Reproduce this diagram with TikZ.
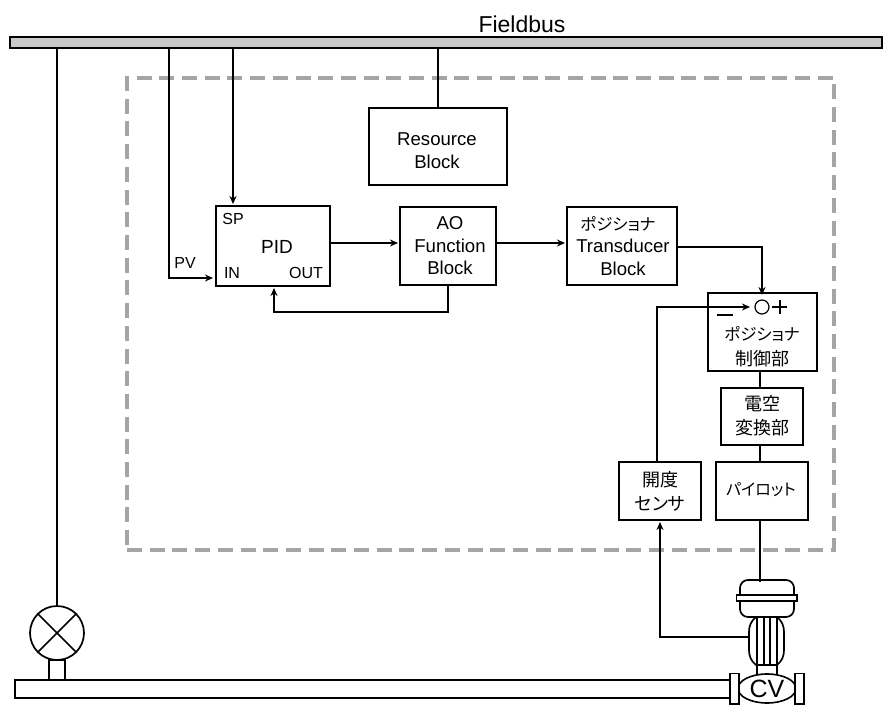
\documentclass[tikz,border=0pt]{standalone}
\usepackage{fontspec}
\setmainfont{Liberation Sans}
\newfontfamily\jpfont[RawFeature=+palt]{Noto Sans CJK JP}
\newcommand{\jps}[1]{{\fontsize{16.5}{23}\selectfont\jpfont #1}}
\usetikzlibrary{arrows.meta,shapes.geometric}
\definecolor{busgray}{RGB}{200,202,200}
\definecolor{dashgray}{RGB}{165,165,165}
\tikzset{
  x=1pt,y=-1pt,
  blockbox/.style={draw=black,line width=1.7pt,fill=white,inner sep=0pt,align=center},
  blocktext/.style={inner sep=0pt,align=center,font=\fontsize{18.6}{22.5}\selectfont},
  wire/.style={draw=black,line width=1.6pt},
  sig/.style={wire,-{Stealth[length=8pt,width=7pt]}},
  tiny label/.style={inner sep=0pt,font=\fontsize{16}{18}\selectfont},
  part/.style={draw=black,line width=1.7pt,fill=white}
}
\newcommand{\blk}[4]{\node[blockbox,minimum width=#3 pt,minimum height=#4 pt] (#1) at (#2) {};}
\begin{document}
\begin{tikzpicture}
\useasboundingbox (0,0) rectangle (892,706);
% dashed boundary
\node[draw=dashgray,line width=4.5pt,dash pattern=on 15pt off 7.7pt,minimum width=707pt,minimum height=472pt,inner sep=0pt] (device) at (480.5,314) {};
% bus
\node[draw=black,fill=busgray,line width=1.7pt,minimum width=872pt,minimum height=11pt,inner sep=0pt] (bus) at (446,42.5) {};
\node[inner sep=0pt,font=\fontsize{23}{25}\selectfont] (fieldbus) at (522,24) {Fieldbus};
\coordinate (actTop) at (760,582);
\coordinate (bonnet) at (749,637);
% blocks
\blk{res}{438,146.5}{138}{77}
\blk{pid}{273,246}{114}{80}
\blk{ao}{448,246}{96}{78}
\blk{trans}{622,246}{110}{78}
\blk{ctl}{762.5,332}{109}{78}
\blk{ep}{762,416.5}{82}{57}
\blk{pilot}{762,491}{92}{58}
\blk{sensor}{660,491}{82}{58}
\node[blocktext] (restext) at (437,150.5) {Resource\\Block};
\node[blocktext,font=\fontsize{19}{23}\selectfont] (pidtext) at (277,247) {PID};
\node[blocktext] (aotext) at (450,246) {AO\\Function\\Block};
\node[blocktext] (transtext) at (623,246) {\jps{ポジショナ}\hspace*{10pt}\\Transducer\\Block};
\node[blocktext,font=\fontsize{18}{25}\selectfont] (ctltext) at (762,347) {\jps{ポジショナ}\\{\jpfont 制御部}};
\node[blocktext,font=\fontsize{18}{24}\selectfont] (eptext) at (762,416) {{\jpfont 電空}\\{\jpfont 変換部}};
\node[blocktext] (pilottext) at (761,490) {{\fontsize{16}{20}\selectfont\jpfont パイロット}};
\node[blocktext,font=\fontsize{18}{24}\selectfont] (sensortext) at (660,491) {{\jpfont 開度}\\{\jpfont センサ}};
% port labels
\node[tiny label] (sp) at (233,219) {SP};
\node[tiny label] (in) at (232,273) {IN};
\node[tiny label] (out) at (306,273) {OUT};
\node[tiny label] (pv) at (185,263) {PV};
% sum junction
\node[draw=black,line width=1.2pt,circle,minimum size=14pt,inner sep=0pt] (sum) at (762,307) {};
\coordinate (plusc) at (780,307);
\draw[black,line width=1.1pt] (772,307) -- (787,307) (plusc)+(0,-7) -- +(0,7);
\draw[black,line width=1.1pt] (717,315) -- (733,315);
% valve
\draw[part,rounded corners=8pt] (740,596) -- (740,580) -- (794,580) -- (794,596);
\draw[part,rounded corners=8pt] (740,600) -- (740,617) -- (794,617) -- (794,600);
\draw[part] (736.5,595) rectangle (797,601);
\draw[part] (757,665) rectangle (777,676);
\draw[part] (756,617) .. controls (751,621) and (749,626) .. (749,632) -- (749,650) .. controls (749,656) and (751,661) .. (756,665) -- (777,665) .. controls (782,661) and (784,656) .. (784,650) -- (784,632) .. controls (784,626) and (782,621) .. (777,617) -- cycle;
\foreach \rx in {757,764,770,777} \draw[black,line width=1.4pt] (\rx,617) -- (\rx,665);
% pipe
\draw[part] (730,680) -- (15,680) -- (15,698) -- (730,698);
\node[draw=black,line width=1.6pt,fill=white,ellipse,minimum width=58pt,minimum height=29pt,inner sep=0pt,font=\fontsize{25}{26}\selectfont] (cv) at (767,688.5) {CV};
\draw[part] (730,673.5) rectangle (739,704);
\draw[part] (795,673.5) rectangle (804,704);
% gauge
\draw[part] (49,660) rectangle (65,680);
\node[draw=black,fill=white,line width=1.7pt,circle,minimum size=54pt,inner sep=0pt] (gauge) at (57,633) {};
\draw[black,line width=1.7pt] (gauge.45) -- (gauge.225) (gauge.135) -- (gauge.315);
% connectors
\draw[wire] (gauge.north) -- (gauge.north |- bus.south);
\draw[sig] (169,48) -- (169,278) -- (213,278);
\draw[sig] (233,48) -- (233,204);
\draw[wire] (res.north) -- (res.north |- bus.south);
\draw[sig] (pid.east |- 0,243) -- (398,243);
\draw[sig] (ao.east |- 0,243) -- (565,243);
\draw[sig] (ao.south) -- (448,312) -- (274,312) -- (274,288);
\draw[sig] (trans.east |- 0,247) -- (762,247) -- (762,295);
\draw[sig] (657,462) -- (657,307) -- (750,307);
\draw[wire] (760,371) -- (760,388);
\draw[wire] (760,445) -- (760,462);
\draw[wire] (760,520) -- (actTop);
\draw[sig] (bonnet) -- (660,637) -- (660,522);
\end{tikzpicture}
\end{document}
